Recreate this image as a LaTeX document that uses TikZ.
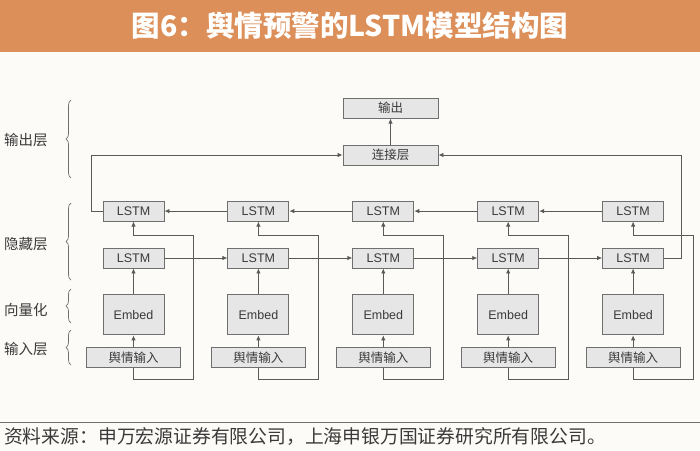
\documentclass[tikz,border=0pt]{standalone}
\usepackage{fontspec}
\setmainfont{Liberation Sans}
\newfontfamily\cjk{Noto Sans CJK SC}
\usetikzlibrary{arrows.meta,positioning,calc,decorations.pathreplacing}
\definecolor{paper}{HTML}{FDFBF8}
\definecolor{titlebar}{HTML}{DC8F58}
\definecolor{boxfill}{HTML}{E6E6E6}
\definecolor{boxdraw}{HTML}{6F6F6F}
\definecolor{ink}{HTML}{3A3A3A}
\definecolor{wire}{HTML}{5A5A5A}
\tikzset{
  >={Latex[length=5pt,width=4.5pt]},
  every node/.style={text=ink},
  box/.style={draw=boxdraw,line width=0.9pt,fill=boxfill,minimum width=61pt,minimum height=20pt,inner sep=0pt,font=\fontsize{12.5}{14}\selectfont},
  lstmbox/.style={box},
  embedbox/.style={box,minimum height=40pt},
  inbox/.style={box,minimum width=94pt,minimum height=19.5pt,font=\cjk\fontsize{12.5}{14}\selectfont},
  outbox/.style={box,minimum width=95pt,font=\cjk\fontsize{12.5}{14}\selectfont},
  arrow/.style={->,line width=0.8pt,draw=wire},
  layer/.style={anchor=west,inner sep=0pt,font=\cjk\fontsize{14.5}{16}\selectfont},
  layerbrace/.style={draw=boxdraw,line width=0.7pt,decorate,decoration={brace,amplitude=5pt}},
}

\begin{document}
\begin{tikzpicture}[x=1pt,y=1pt]

\useasboundingbox (0,0) rectangle (700,-450);
\fill[paper] (0,0) rectangle (700,-450);
\fill[titlebar] (0,0) rectangle (700,-52);
\node[text=white,font=\cjk\bfseries\fontsize{28.5}{30}\selectfont] (title) at (350,-26) {图6：舆情预警的LSTM模型结构图};

\node[lstmbox] (fwd1) at (133.5,-258) {LSTM};
\node[lstmbox,right=63pt of fwd1] (fwd2) {LSTM};
\node[lstmbox,right=63pt of fwd2] (fwd3) {LSTM};
\node[lstmbox,right=63pt of fwd3] (fwd4) {LSTM};
\node[lstmbox,right=63pt of fwd4] (fwd5) {LSTM};

\node[lstmbox,above=26pt of fwd1] (bwd1) {LSTM};
\node[lstmbox,above=26pt of fwd2] (bwd2) {LSTM};
\node[lstmbox,above=26pt of fwd3] (bwd3) {LSTM};
\node[lstmbox,above=26pt of fwd4] (bwd4) {LSTM};
\node[lstmbox,above=26pt of fwd5] (bwd5) {LSTM};

\node[embedbox,below=26pt of fwd1] (emb1) {Embed};
\node[embedbox,below=26pt of fwd2] (emb2) {Embed};
\node[embedbox,below=26pt of fwd3] (emb3) {Embed};
\node[embedbox,below=26pt of fwd4] (emb4) {Embed};
\node[embedbox,below=26pt of fwd5] (emb5) {Embed};

\node[inbox,below=12pt of emb1] (in1) {舆情输入};
\node[inbox,below=12pt of emb2] (in2) {舆情输入};
\node[inbox,below=12pt of emb3] (in3) {舆情输入};
\node[inbox,below=12pt of emb4] (in4) {舆情输入};
\node[inbox,below=12pt of emb5] (in5) {舆情输入};

\node[outbox] (concat) at (390.5,-155) {连接层};
\node[outbox,above=26pt of concat] (out) {输出};

\draw[arrow] (in1) -- (emb1);
\draw[arrow] (in2) -- (emb2);
\draw[arrow] (in3) -- (emb3);
\draw[arrow] (in4) -- (emb4);
\draw[arrow] (in5) -- (emb5);
\draw[arrow] (emb1) -- (fwd1);
\draw[arrow] (emb2) -- (fwd2);
\draw[arrow] (emb3) -- (fwd3);
\draw[arrow] (emb4) -- (fwd4);
\draw[arrow] (emb5) -- (fwd5);

\draw[arrow] (fwd1) -- (fwd2);
\draw[arrow] (fwd2) -- (fwd3);
\draw[arrow] (fwd3) -- (fwd4);
\draw[arrow] (fwd4) -- (fwd5);
\draw[arrow] (bwd5) -- (bwd4);
\draw[arrow] (bwd4) -- (bwd3);
\draw[arrow] (bwd3) -- (bwd2);
\draw[arrow] (bwd2) -- (bwd1);

\draw[arrow] (in1.south) -- ++(0,-12) -| ([shift={(60,-14)}]bwd1.south) -| (bwd1.south);
\draw[arrow] (in2.south) -- ++(0,-12) -| ([shift={(60,-14)}]bwd2.south) -| (bwd2.south);
\draw[arrow] (in3.south) -- ++(0,-12) -| ([shift={(60,-14)}]bwd3.south) -| (bwd3.south);
\draw[arrow] (in4.south) -- ++(0,-12) -| ([shift={(60,-14)}]bwd4.south) -| (bwd4.south);
\draw[arrow] (in5.south) -- ++(0,-12) -| ([shift={(60,-14)}]bwd5.south) -| (bwd5.south);

\draw[arrow] (bwd1.west) -- ++(-11,0) |- (concat.west);
\draw[arrow] (fwd5.east) -- ++(17,0) |- (concat.east);
\draw[arrow] (concat) -- (out);

\node[layer] (lblout) at (4,-140) {输出层};
\node[layer] (lblhid) at (4,-244) {隐藏层};
\node[layer] (lblvec) at (4,-310) {向量化};
\node[layer] (lblin) at (4,-349) {输入层};
\draw[layerbrace] (71,-178) -- (71,-100);
\draw[layerbrace] (71,-280) -- (71,-203);
\draw[layerbrace] (71,-323) -- (71,-289);
\draw[layerbrace] (71,-365) -- (71,-330);

\draw[boxdraw,line width=0.8pt] (0,-422) -- (700,-422);
\node[anchor=west,inner sep=0pt,font=\cjk\fontsize{18.8}{20}\selectfont] (source) at (4,-437) {资料来源：申万宏源证券有限公司，上海申银万国证券研究所有限公司。};

\end{tikzpicture}
\end{document}
